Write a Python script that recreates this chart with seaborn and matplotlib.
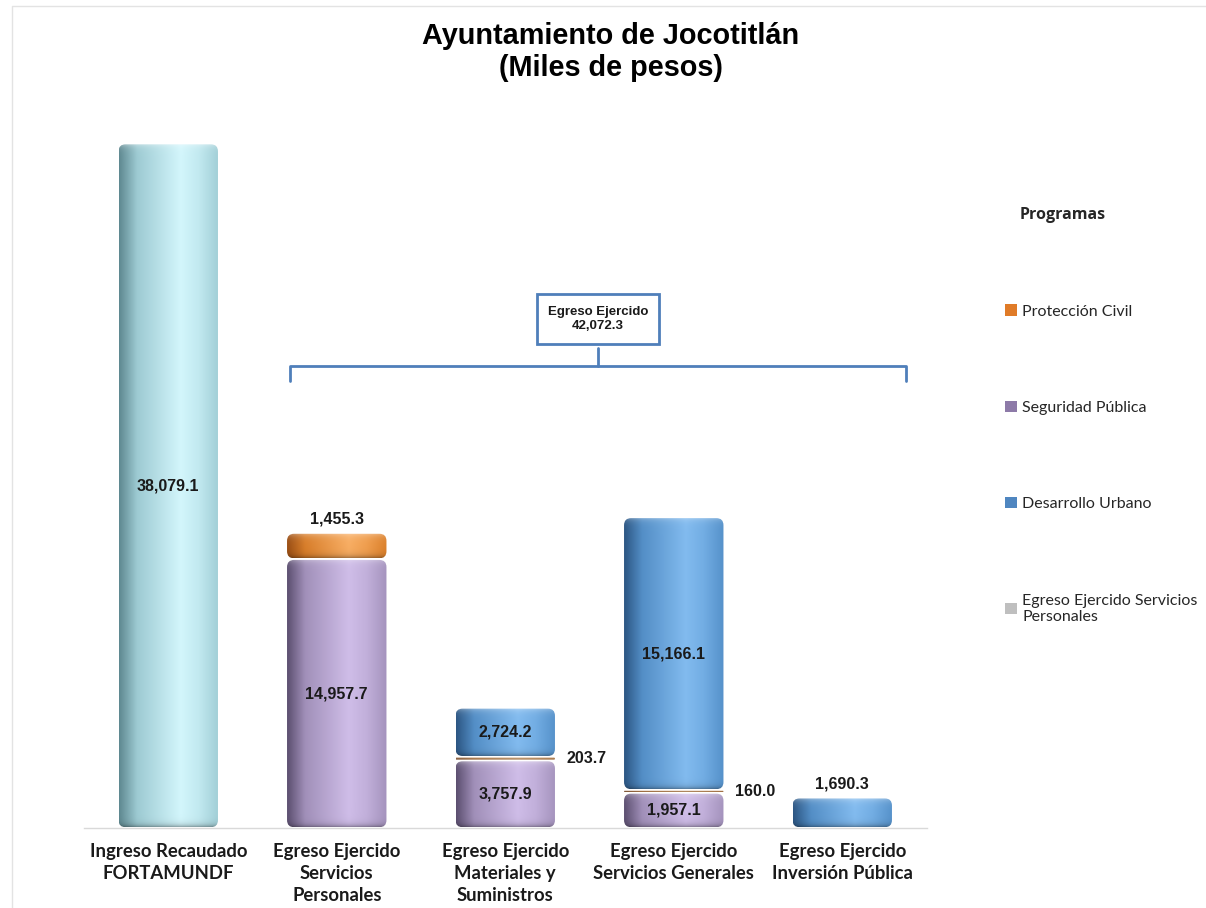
import numpy as np
import matplotlib
matplotlib.use("Agg")
import matplotlib.pyplot as plt
import seaborn as sns
from matplotlib.patches import FancyBboxPatch, Patch
from matplotlib.lines import Line2D
from matplotlib.colors import to_rgb

categories = ["Ingreso Recaudado\nFORTAMUNDF",
              "Egreso Ejercido\nServicios\nPersonales",
              "Egreso Ejercido\nMateriales y\nSuministros",
              "Egreso Ejercido\nServicios Generales",
              "Egreso Ejercido\nInversión Pública"]

ingreso = [38079.1, 0, 0, 0, 0]
seguridad = [0, 14957.7, 3757.9, 1957.1, 0]
proteccion = [0, 1455.3, 203.7, 160.0, 0]
desarrollo = [0, 0, 2724.2, 15166.1, 1690.3]

# stacking order, bottom to top
series = [("Egreso Ejercido Servicios\nPersonales", ingreso),
          ("Seguridad Pública", seguridad),
          ("Protección Civil", proteccion),
          ("Desarrollo Urbano", desarrollo)]

# (dark edge, base, highlight)
shades = {
    "Egreso Ejercido Servicios\nPersonales": ("#5f8991", "#a8d6de", "#d3f6fc"),
    "Seguridad Pública": ("#5c4f70", "#ad9bc6", "#cfbde8"),
    "Protección Civil": ("#9a4e14", "#e3862e", "#f8ad62"),
    "Desarrollo Urbano": ("#2c5683", "#5a98d2", "#82bbef"),
}
legend_colors = {
    "Protección Civil": "#e07b28",
    "Seguridad Pública": "#8d7aa8",
    "Desarrollo Urbano": "#4f86c0",
    "Egreso Ejercido Servicios\nPersonales": "#bfbfbf",
}

sns.set_theme(style="white")
plt.rcParams['font.family'] = ['Liberation Sans', 'DejaVu Sans']

W, H = 1206, 908
fig = plt.figure(figsize=(W / 100, H / 100), dpi=100)
fig.patch.set_facecolor("white")
ax = fig.add_axes([84 / W, 1 - 828 / H, 842.5 / W, 755 / H])

ymax = 42000
bottom = np.zeros(len(categories))
groups = []
for name, vals in series:
    n0 = len(ax.patches)
    sns.barplot(x=categories, y=vals, bottom=bottom.copy(), width=0.59,
                color=shades[name][1], order=categories, ax=ax)
    groups.append((name, vals, bottom.copy(), ax.patches[n0:]))
    bottom += np.array(vals)

ax.set_xlim(-0.5, len(categories) - 0.5)
ax.set_ylim(0, ymax)

xpp = len(categories) / 842.5
ypp = ymax / 755.0
aspect = ypp / xpp


def cylinder_image(name, ny, nx=120):
    dark, base, light = (np.array(to_rgb(c)) for c in shades[name])
    t = np.linspace(0, 1, nx)
    pos = [0.0, 0.18, 0.62, 0.8, 1.0]
    cols = [dark, base * 0.85 + dark * 0.15, light, light * 0.6 + base * 0.4, base * 0.9 + dark * 0.1]
    row = np.stack([np.interp(t, pos, [c[k] for c in cols]) for k in range(3)], axis=-1)
    img = np.repeat(row[None, :, :], ny, axis=0)
    d_top = np.arange(ny)[:, None, None]
    d_bot = (ny - 1 - np.arange(ny))[:, None, None]
    lighten = 0.35 * np.exp(-d_top / 3.0)
    darken = 0.3 * np.exp(-d_bot / 2.5)
    img = img + (1 - img) * lighten
    img = img * (1 - darken)
    return np.clip(img, 0, 1)


label_kw = dict(fontsize=11.5, fontweight="bold", color="#1a1a1a",
                family=['Liberation Sans Narrow', 'Liberation Sans', 'DejaVu Sans'])

for gi, (name, vals, bots, patches) in enumerate(groups):
    for i, p in enumerate(patches):
        h = p.get_height()
        p.set_visible(False)
        if h <= 0:
            continue
        x0, w, y0 = p.get_x(), p.get_width(), p.get_y()
        gap = ypp * 0.8
        yb, yt = y0 + gap, y0 + h - gap
        r = min(0.042, w / 2, (yt - yb) / aspect / 2 * 0.95)
        clip = FancyBboxPatch((x0, yb), w, yt - yb,
                              boxstyle=f"round,pad=0,rounding_size={r}",
                              mutation_aspect=aspect, transform=ax.transData,
                              facecolor="none", edgecolor="none")
        ax.add_patch(clip)
        ny = max(int((yt - yb) / ypp), 2)
        im = ax.imshow(cylinder_image(name, ny), extent=[x0, x0 + w, yb, yt],
                       aspect="auto", interpolation="bilinear", zorder=2)
        im.set_clip_path(clip)

        # value label
        is_top = all(g[1][i] == 0 for g in groups[gi + 1:])
        txt = f"{vals[i]:,.1f}"
        if is_top and h < 2500:
            ax.text(x0 + w / 2, y0 + h + ypp * 6, txt, ha="center", va="bottom", zorder=5, **label_kw)
        elif h < 600:
            ax.text(x0 + w + 0.07, y0 + h / 2, txt, ha="left", va="center", zorder=5, **label_kw)
        else:
            ax.text(x0 + w / 2, y0 + h / 2, txt, ha="center", va="center", zorder=5, **label_kw)

ax.set_xlim(-0.5, len(categories) - 0.5)
ax.set_ylim(0, ymax)

# bracket over the expenditure bars
egreso_total = sum(seguridad) + sum(proteccion) + sum(desarrollo)
bx0, bx1, bxc = 0.723, 4.378, 2.55
by = (828 - 366) * ypp
bdrop = 15 * ypp
bcol = "#4f7fba"
ax.plot([bx0, bx0, bx1, bx1], [by - bdrop, by, by, by - bdrop], color=bcol, lw=2, clip_on=False, zorder=3)
ax.plot([bxc, bxc], [by, (828 - 348) * ypp], color=bcol, lw=2, clip_on=False, zorder=3)
ax.text(bxc, (828 - 319) * ypp, f"Egreso Ejercido\n{egreso_total:,.1f}", ha="center", va="center",
        fontsize=9.5, fontweight="bold", color="#1a1a1a", linespacing=1.3,
        family=['Liberation Sans Narrow', 'Liberation Sans', 'DejaVu Sans'], zorder=4,
        bbox=dict(boxstyle="square,pad=0.85", facecolor="white", edgecolor=bcol, lw=2))

# axes styling
for s in ["left", "top", "right"]:
    ax.spines[s].set_visible(False)
ax.spines["bottom"].set_color("#d9d9d9")
ax.spines["bottom"].set_linewidth(1)
ax.set_yticks([])
ax.set_ylabel("")
ax.set_xticks(range(len(categories)))
ax.set_xticklabels(categories, fontsize=13.3, fontweight="bold", color="#1a1a1a",
                   family=['Lato', 'DejaVu Sans'], linespacing=1.36)
ax.set_xticks(np.arange(-0.5, len(categories)), minor=True)
ax.tick_params(axis="x", which="major", length=0, pad=11)
ax.tick_params(axis="x", which="minor", length=8, color="#d9d9d9", width=1, direction="out")
ax.set_facecolor("none")

fig.text(611 / W, 1 - 52 / H, "Ayuntamiento de Jocotitlán\n(Miles de pesos)", ha="center", va="center",
         fontsize=20.8, fontweight="bold", color="black", linespacing=1.2)

# legend
order = ["Protección Civil", "Seguridad Pública", "Desarrollo Urbano", "Egreso Ejercido Servicios\nPersonales"]
handles = [Patch(facecolor=legend_colors[k], edgecolor="none") for k in order]
fig.text(1020 / W, 1 - 215 / H, "Programas", ha="left", va="center", fontsize=11.5,
         fontweight="bold", family=['Open Sans', 'DejaVu Sans'])
fig.legend(handles, order, loc="upper left", bbox_to_anchor=(991 / W, 1 - 290 / H),
           frameon=False, labelspacing=5.15, handlelength=0.7, handleheight=0.7,
           handletextpad=0.35, prop={'family': ['Lato', 'DejaVu Sans'], 'size': 11.5})

# thin page frame on top and left
fig.add_artist(Line2D([12 / W, 12 / W, 1], [0, 1 - 6 / H, 1 - 6 / H], transform=fig.transFigure,
                      color="#e3e3e3", lw=1))

fig.savefig("out.png", dpi=100)
print("Saved out.png")
